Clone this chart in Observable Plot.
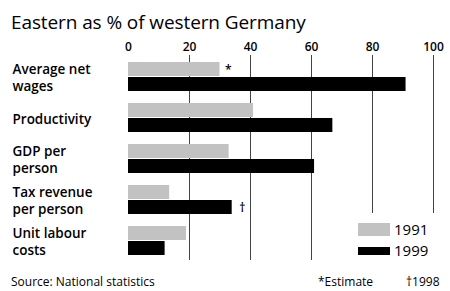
<!DOCTYPE html>
<html>
<head>
<meta charset="utf-8">
<script src="https://cdn.jsdelivr.net/npm/d3@7"></script>
<script src="https://cdn.jsdelivr.net/npm/@observablehq/plot@0.6"></script>
<style>
  html, body { margin: 0; padding: 0; background: #fff; }
  #wrap { position: relative; width: 450px; height: 291px; overflow: hidden; font-family: "Open Sans", sans-serif; color: #000; }
  #title { position: absolute; left: 11px; top: 9px; font-size: 19px; line-height: 26px; font-weight: 400; letter-spacing: -0.1px; white-space: nowrap; }
  #legend { position: absolute; left: 352px; top: 213px; width: 98px; height: 50px; background: #fff; font-size: 15px; }
  .sw { position: absolute; left: 6px; width: 32px; }
  .lt { position: absolute; left: 42px; line-height: 15px; }
  .foot { position: absolute; top: 273px; font-size: 12px; white-space: nowrap; }
</style>
</head>
<body>
<div id="wrap">
  <div id="chart"></div>
  <div id="title">Eastern as % of western Germany</div>
  <div id="legend"></div>
  <div class="foot" style="left:11px">Source: National statistics</div>
  <div class="foot" style="left:318px">*Estimate</div>
  <div class="foot" style="left:406px">†1998</div>
</div>
<script>
const categories = ["Average net\nwages", "Productivity", "GDP per\nperson", "Tax revenue\nper person", "Unit labour\ncosts"];
const years = ["1991", "1999"];
const values1991 = [30, 41, 33, 13.5, 19];
const values1999 = [91, 67, 61, 34, 12];
const notes1991 = ["*", "", "", "", ""];
const notes1999 = ["", "", "", "†", ""];
const xTicks = [0, 20, 40, 60, 80, 100];
const colors = {"1991": "#c2c2c2", "1999": "#000000"};

const d91 = categories.map((c, i) => ({category: c, value: values1991[i], note: notes1991[i]}));
const d99 = categories.map((c, i) => ({category: c, value: values1999[i], note: notes1999[i]}));

const chart = Plot.plot({
  width: 450,
  height: 291,
  marginTop: 55,
  marginBottom: 31,
  marginLeft: 128,
  marginRight: 17,
  style: {fontFamily: "Open Sans, sans-serif", background: "#fff"},
  x: {domain: [0, 100], axis: null, label: null},
  y: {domain: categories, range: [60, 257], paddingInner: 0.281, paddingOuter: 0, axis: null, label: null},
  marks: [
    Plot.gridX(xTicks.filter(d => d > 0), {stroke: "#444", strokeOpacity: 1, strokeWidth: 1}),
    Plot.axisX(xTicks, {anchor: "top", tickSize: 0, tickPadding: 5, fontSize: 12, fontWeight: 600, tickFormat: d => d, label: null}),
    Plot.barX(d91, {y: "category", x: "value", fill: colors["1991"], insetBottom: 15}),
    Plot.barX(d99, {y: "category", x: "value", fill: colors["1999"], insetTop: 15}),
    Plot.text(d91.filter(d => d.note), {y: "category", x: "value", text: "note", dx: 5, dy: -7, textAnchor: "start", fontSize: 12, fontWeight: 600, fill: "#000"}),
    Plot.text(d99.filter(d => d.note), {y: "category", x: "value", text: "note", dx: 7, dy: 8, textAnchor: "start", fontSize: 12, fontWeight: 600, fill: "#000"}),
    Plot.text(categories, {y: d => d, text: d => d, frameAnchor: "left", dx: -116, textAnchor: "start", fontSize: 13.5, fontWeight: 600, lineHeight: 1.28, fill: "#000"})
  ]
});
document.getElementById("chart").appendChild(chart);

const legend = document.getElementById("legend");
const legendTops = {"1991": [10, 13, 9], "1999": [34, 8, 30]};
years.forEach(y => {
  const [t, h, lt] = legendTops[y];
  const sw = document.createElement("div");
  sw.className = "sw";
  sw.style.top = t + "px";
  sw.style.height = h + "px";
  sw.style.background = colors[y];
  legend.appendChild(sw);
  const lab = document.createElement("div");
  lab.className = "lt";
  lab.style.top = lt + "px";
  lab.textContent = y;
  legend.appendChild(lab);
});
</script>
</body>
</html>
